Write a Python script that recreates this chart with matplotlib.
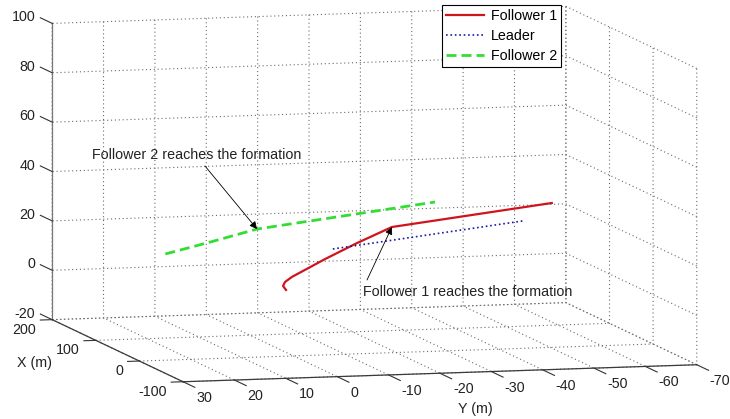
import matplotlib
matplotlib.use("Agg")
import matplotlib.pyplot as plt
from mpl_toolkits.mplot3d import proj3d

plt.rcParams["font.family"] = ["Liberation Sans", "DejaVu Sans"]
plt.rcParams["font.size"] = 10.3
plt.rcParams["axes.unicode_minus"] = False
plt.rcParams["grid.linestyle"] = (0, (1, 2.5))
plt.rcParams["grid.color"] = "#6a6a6a"
plt.rcParams["grid.linewidth"] = 0.8

# trajectories (x, y, z) in metres
leader_x = [31.2, 129.4]
leader_y = [-10.3, -55.6]
leader_z = [20.0, 20.0]

f1_x = [-40, -38, -36, -33, -20, -6, 10, 94.6]
f1_y = [4.86, 5.27, 4.71, 3.10, -4.43, -11.84, -20.0, -58.3]
f1_z = [10.4, 11.9, 13.3, 15.0, 20.6, 25.4, 30.0, 30.0]

f2_x = [-50, -42, -34.8, 60.7]
f2_y = [29.2, 19.8, 10.06, -32.7]
f2_z = [27.5, 31.0, 35.0, 35.0]

# sample where each follower joins the formation
f1_join = 6
f2_join = 2

x_ticks = [-100, 0, 100, 200]
y_ticks = [30, 20, 10, 0, -10, -20, -30, -40, -50, -60, -70]
z_ticks = [-20, 0, 20, 40, 60, 80, 100]

fig = plt.figure(figsize=(7.3, 4.19), dpi=100)
ax = fig.add_subplot(projection="3d")
ax.set_position([-0.0308, -0.4105, 1.0589, 1.8449])
ax.set_proj_type("ortho")
ax.view_init(elev=7.2, azim=165.2)
ax.set_box_aspect((513, 532, 299))

ax.plot(f1_x, f1_y, f1_z, color="#d0141e", lw=1.6, label="Follower 1")
ax.plot(leader_x, leader_y, leader_z, color="#1a1aa8", lw=1.2, ls=":", label="Leader")
ax.plot(f2_x, f2_y, f2_z, color="#33dd33", lw=2.0, dashes=(3.6, 1.8), label="Follower 2")

ax.set_xlim(-100, 200)
ax.set_ylim(-70, 30)
ax.set_zlim(-20, 100)
ax.set_xticks(x_ticks, labels=[""] * len(x_ticks))
ax.set_yticks(y_ticks, labels=[""] * len(y_ticks))
ax.set_zticks(z_ticks, labels=[""] * len(z_ticks))
ax.zaxis.set_ticks_position("upper")

for axis in (ax.xaxis, ax.yaxis, ax.zaxis):
    axis.set_pane_color((1, 1, 1, 0))
    axis.pane.set_edgecolor("none")
    axis.line.set_color("#3a3a3a")
    axis.line.set_linewidth(0.9)
    axis._axinfo["tick"]["inward_factor"] = 0
    axis._axinfo["tick"]["outward_factor"] = 0
ax.zaxis.line.set_color("#777777")

# short tick marks sticking out of the box edges
tick_style = dict(color="#333333", lw=0.8)
for v in z_ticks:
    ax.plot([200, 227], [30, 30], [v, v], **tick_style)
for v in x_ticks:
    ax.plot([v, v], [30, 32.3], [-20, -20], **tick_style)
for v in y_ticks:
    ax.plot([-100, -127], [v, v], [-20, -20], **tick_style)


def screen(x, y, z):
    x2, y2, _ = proj3d.proj_transform(x, y, z, ax.get_proj())
    return x2, y2


# tick labels placed next to the box edges
for v in z_ticks:
    ax.annotate(str(v), xy=screen(200, 30, v), xytext=(-17, 6), textcoords="offset pixels",
                ha="right", va="center", color="#222222")
for v in x_ticks:
    ax.annotate(str(v), xy=screen(v, 30, -20), xytext=(-16, -10), textcoords="offset pixels",
                ha="right", va="center", color="#222222")
for v in y_ticks:
    ax.annotate(str(v), xy=screen(-100, v, -20), xytext=(13, -16), textcoords="offset pixels",
                ha="left", va="center", color="#222222")
fig.text(17 / 730, 1 - 363 / 419, "X (m)", va="center", color="#222222")
fig.text(475 / 730, 1 - 409 / 419, "Y (m)", ha="center", va="center", color="#222222")

arrow = dict(arrowstyle="-|>", color="black", lw=0.6, mutation_scale=11, shrinkA=0, shrinkB=0)
ax.annotate("", xy=screen(f2_x[f2_join], f2_y[f2_join], f2_z[f2_join]),
            xytext=(205, 253), textcoords="figure pixels", arrowprops=arrow)
ax.annotate("", xy=screen(f1_x[f1_join], f1_y[f1_join], f1_z[f1_join]),
            xytext=(367, 139), textcoords="figure pixels", arrowprops=arrow)
fig.text(92 / 730, 264 / 419, "Follower 2 reaches the formation", va="center", color="#222222")
fig.text(363 / 730, 127 / 419, "Follower 1 reaches the formation", va="center", color="#222222")

leg = ax.legend(loc="upper left", bbox_to_anchor=(442 / 730, 1 - 5 / 419),
                bbox_transform=fig.transFigure, fancybox=False, framealpha=1,
                edgecolor="black", borderpad=0.3, labelspacing=0.4,
                handlelength=2.65, handletextpad=0.45, borderaxespad=0)
leg.get_frame().set_linewidth(0.8)

fig.savefig("out.png", dpi=100)
